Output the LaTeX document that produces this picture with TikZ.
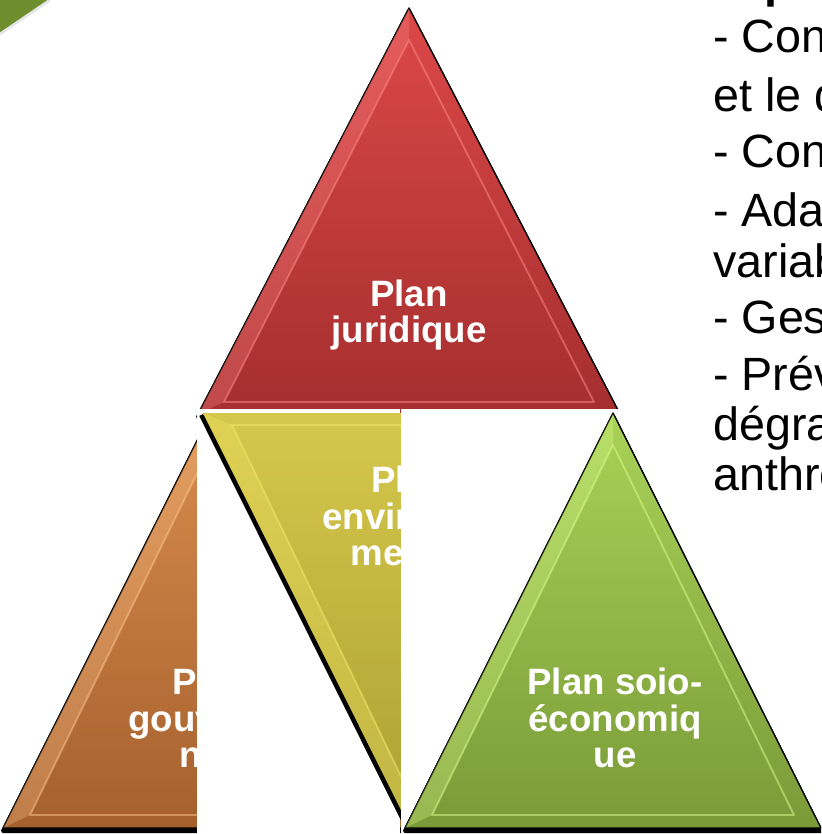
\documentclass[tikz,border=0pt]{standalone}
\usepackage{fontspec}
\setmainfont{Liberation Sans}
\definecolor{rougeH}{HTML}{DC4848}
\definecolor{rougeB}{HTML}{A52E2E}
\definecolor{rougeL}{HTML}{FF8A8A}
\definecolor{orangeH}{HTML}{D98D4C}
\definecolor{orangeB}{HTML}{A5602E}
\definecolor{orangeL}{HTML}{FFC58E}
\definecolor{jauneH}{HTML}{D6C84C}
\definecolor{jauneB}{HTML}{ABA033}
\definecolor{jauneL}{HTML}{F6EA6A}
\definecolor{vertH}{HTML}{A9D257}
\definecolor{vertB}{HTML}{7A9A38}
\definecolor{vertL}{HTML}{DDFF8E}
\definecolor{coin}{HTML}{6E8E2E}
\begin{document}
\begin{tikzpicture}[x=0.75pt, y=-0.75pt, line join=round,
  plan/.style={text=white, font=\bfseries\fontsize{27.5}{27.5}\selectfont, align=center, inner sep=0pt},
  puce/.style={anchor=base west, inner sep=0pt, font=\fontsize{35}{35}\selectfont},
  bevel/.style={line width=1.4pt, opacity=.5},
  reflet/.style={opacity=.3},
  ombre/.style={draw=black, fill=black, line width=3pt}]
\useasboundingbox (0,0) rectangle (821,834);
\clip (0,0) rectangle (821,834);

\fill[coin] (0,0) -- (50,0) -- (0,34) -- cycle;
\draw[white!80!gray, line width=2pt] (50,0) -- (0,34);

% rouge
\draw[ombre, shift={(0,3)}] (409,8) -- (620,414) -- (198,414) -- cycle;
\draw[top color=rougeH, bottom color=rougeB, line width=1pt] (409,8) -- (620,414) -- (198,414) -- cycle;
\fill[reflet, rougeL] (409,8) -- (409,40) -- (224,402) -- (198,414) -- cycle;
\draw[bevel, draw=rougeL] (409,40) -- (594,402) -- (224,402) -- cycle;
\node[plan] (juridique) at (409,315) {Plan\\juridique};

% orange
\draw[ombre, shift={(0,3)}] (211,413) -- (419,828) -- (3,828) -- cycle;
\draw[top color=orangeH, bottom color=orangeB, line width=1pt] (211,413) -- (419,828) -- (3,828) -- cycle;
\fill[reflet, orangeL] (211,413) -- (211,445) -- (30,815) -- (3,828) -- cycle;
\draw[bevel, draw=orangeL] (211,445) -- (392,815) -- (30,815) -- cycle;
\node[plan] (gouvernance) at (211,718) {Plan\\gouverna\\nce};
\fill[white] (197,409) rectangle (400,834);

% jaune
\draw[ombre, shift={(-2,2)}] (203,413) -- (410,828) -- (617,413);
\fill[top color=jauneH, bottom color=jauneB] (203,413) -- (617,413) -- (410,828) -- cycle;
\fill[reflet, jauneL] (203,413) -- (232,425) -- (410,795) -- (410,828) -- cycle;
\draw[bevel, draw=jauneL] (232,425) -- (588,425) -- (410,795) -- cycle;
\node[plan] (environnement) at (410,516) {Plan\\environne\\mental};
\fill[white] (401,409) rectangle (821,834);

% vert
\draw[ombre, shift={(0,3)}] (613,413) -- (821,828) -- (405,828) -- cycle;
\draw[top color=vertH, bottom color=vertB, line width=1pt] (613,413) -- (821,828) -- (405,828) -- cycle;
\fill[reflet, vertL] (613,413) -- (613,445) -- (432,815) -- (405,828) -- cycle;
\draw[bevel, draw=vertL] (613,445) -- (794,815) -- (432,815) -- cycle;
\node[plan] (socio) at (615,718) {Plan soio-\\économiq\\ue};

% texte de droite
\node[puce, font=\bfseries\fontsize{35}{35}\selectfont] (titre) at (764,-2) {p};
\node[puce] (l1) at (713,53) {- Conservation de la biodiversité};
\node[puce] (l2) at (713,112) {et le développement durable};
\node[puce] (l3) at (713,168) {- Conservation des sols};
\node[puce] (l4) at (713,226) {- Adaptation à la};
\node[puce] (l5) at (713,277) {variabilité climatique};
\node[puce] (l6) at (713,333) {- Gestion des ressources};
\node[puce] (l7) at (713,390) {- Prévention de la};
\node[puce] (l8) at (713,440) {dégradation};
\node[puce] (l9) at (713,490) {anthropique};

\end{tikzpicture}
\end{document}
